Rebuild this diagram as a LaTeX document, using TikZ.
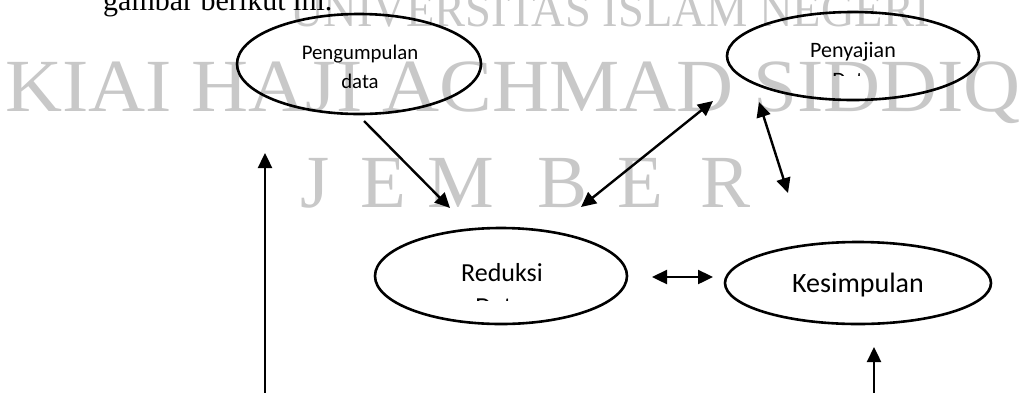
\documentclass[tikz,border=0pt]{standalone}
\usepackage{fontspec}
\setmainfont{Liberation Serif}
\newfontfamily\labelfont{Carlito}
\usetikzlibrary{arrows.meta,shapes.geometric}
\definecolor{wmgray}{RGB}{200,200,200}
\begin{document}
\begin{tikzpicture}[x=1pt,y=-1pt,
  oval/.style={draw=black,ellipse,line width=2.6pt,inner sep=0pt},
  lbl/.style={text=black,inner sep=0pt,align=center},
  wm/.style={text=wmgray,inner sep=0pt,anchor=base},
  tip/.style={-{Triangle[length=15pt,width=14pt]}},
  link/.style={line width=2.4pt,tip},
  twoway/.style={line width=2.4pt,{Triangle[length=15pt,width=14pt]}-{Triangle[length=15pt,width=14pt]}}]
\clip (0,0) rectangle (1022,392);
\fill[white] (0,0) rectangle (1022,392);

% page watermark
\node[wm,font=\fontsize{50}{54}\selectfont] (wmtop) at (610,26) {\scalebox{0.93}[1]{UNIVERSITAS ISLAM NEGERI}};
\node[wm,font=\fontsize{79}{82}\selectfont] (wmmid) at (513,111) {\scalebox{1}[0.95]{KIAI HAJI ACHMAD SIDDIQ}};
\foreach \x/\c [count=\i] in {300/J,360/E,427/M,537/B,617/E,700/R}
  \node[wm,anchor=base west,font=\fontsize{75}{80}\selectfont] (wmcity\i) at (\x,207) {\c};

% running text above the figure
\node[anchor=base west,inner sep=0pt,font=\fontsize{30}{34}\selectfont] (caption) at (103,10) {gambar berikut ini.};

% stages
\node[oval,minimum width=244pt,minimum height=100pt] (collect) at (359,64) {};
\node[oval,minimum width=252pt,minimum height=88pt] (display) at (853,56) {};
\node[oval,minimum width=252pt,minimum height=96pt] (reduce) at (501,276) {};
\node[oval,minimum width=266pt,minimum height=82pt] (conclude) at (858,283) {};

\node[lbl,font=\labelfont\fontsize{20.8}{29}\selectfont] (collect-text) at (360,67) {Pengumpulan\\data};
\node[lbl,font=\labelfont\fontsize{22}{27}\selectfont] (display-text) at (853,52) {Penyajian};
\begin{scope}
  \clip (780,72) rectangle (930,75.5);
  \node[lbl,anchor=base,font=\labelfont\fontsize{22}{27}\selectfont] (display-more) at (853,87) {Data};
\end{scope}
\node[lbl,font=\labelfont\fontsize{26}{32}\selectfont] (reduce-text) at (502,273) {Reduksi};
\begin{scope}
  \clip (420,296) rectangle (580,300.5);
  \node[lbl,anchor=base,font=\labelfont\fontsize{26}{32}\selectfont] (reduce-more) at (500,315) {Data};
\end{scope}
\node[lbl,font=\labelfont\fontsize{28}{34}\selectfont] (conclude-text) at (858,285) {Kesimpulan};

% connector ends
\coordinate (c2r-a) at (364,121);  \coordinate (c2r-b) at (450,208);
\coordinate (r2d-a) at (581,207);  \coordinate (r2d-b) at (713,101);
\coordinate (d2k-a) at (759,102);  \coordinate (d2k-b) at (788,193);
\coordinate (r2k-a) at (652,277);  \coordinate (r2k-b) at (713,277);
\coordinate (lft-a) at (265,400);  \coordinate (lft-b) at (265,153);
\coordinate (rgt-a) at (874,400);  \coordinate (rgt-b) at (874,347);

\draw[link] (c2r-a) -- (c2r-b);
\draw[twoway] (r2d-a) -- (r2d-b);
\draw[twoway] (d2k-a) -- (d2k-b);
\draw[twoway] (r2k-a) -- (r2k-b);
\draw[link] (lft-a) -- (lft-b);
\draw[link] (rgt-a) -- (rgt-b);
\end{tikzpicture}
\end{document}
